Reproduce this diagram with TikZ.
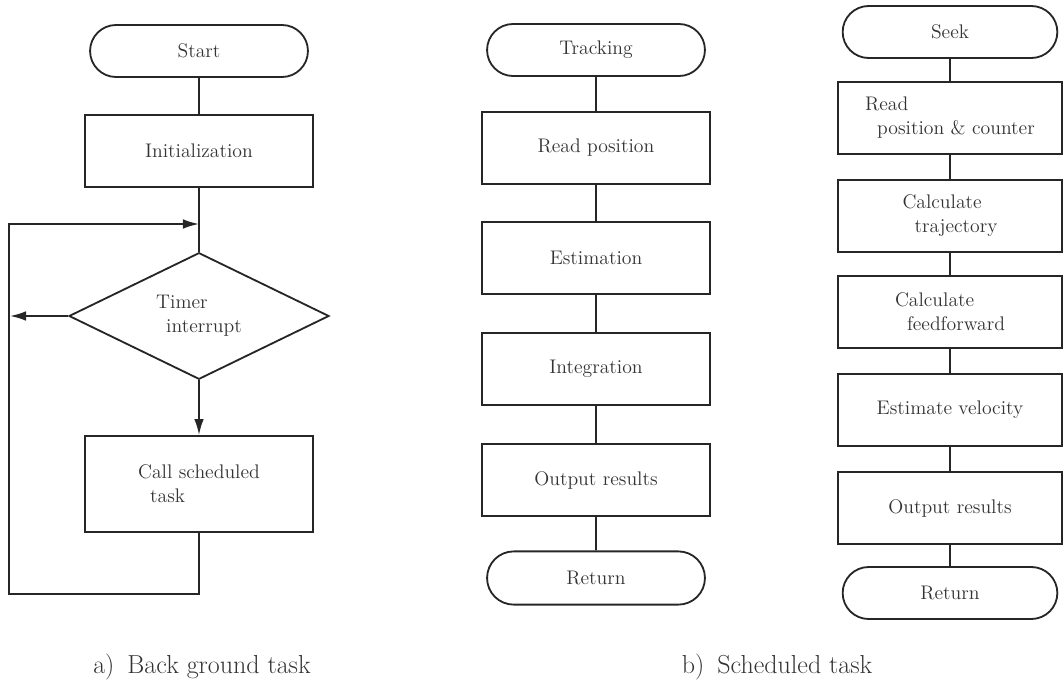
\documentclass[tikz,border=0pt]{standalone}
\usepackage{fontspec}
\usetikzlibrary{shapes.geometric,shapes.misc,arrows.meta}
\begin{document}
\begin{tikzpicture}[x=0.025cm,y=-0.025cm,line width=1.3pt,color=black!85,
  every node/.style={font=\fontsize{14}{17}\selectfont,text=black!80},
  term/.style={draw,rounded rectangle,minimum width=5.68cm,minimum height=1.3cm},
  proc/.style={draw,rectangle,minimum width=5.7cm,minimum height=1.8cm},
  arr/.style={-{Latex[length=4mm,width=2.4mm]}}]
\useasboundingbox (0,0) rectangle (1063,683);
% a) back ground task
\node[term] (start) at (199,51) {Start};
\node[proc] (init) at (199,151) {Initialization};
\node[draw,diamond,minimum width=6.5cm,minimum height=2.85cm,inner sep=0pt,align=left] (timer) at (199,316) {Timer\\\hspace*{2.5mm}interrupt};
\node[proc,minimum height=2.4cm,align=left] (call) at (199,484) {Call scheduled\\\hspace*{3mm}task};
\coordinate (merge) at (199,224);
\coordinate (back) at (9,594);
\coordinate (exit) at (10,316);
\draw (start) -- (init);
\draw (init) -- (timer);
\draw[arr] (timer) -- (call);
\draw[arr] (timer) -- (exit);
\draw[arr] (call) |- (back) |- (merge);
% b) scheduled task, tracking
\node[term] (track) at (596,50) {Tracking};
\node[proc] (rpos) at (596,148) {Read position};
\node[proc] (est) at (596,258) {Estimation};
\node[proc] (integ) at (596,369) {Integration};
\node[proc] (outa) at (596,480) {Output results};
\node[term,minimum height=1.33cm] (reta) at (596,578) {Return};
\foreach \a/\b in {track/rpos,rpos/est,est/integ,integ/outa,outa/reta} \draw (\a) -- (\b);
% b) scheduled task, seek
\node[term,minimum width=5.6cm] (seek) at (950,32) {Seek};
\node[proc,minimum width=5.6cm,align=left] (rpc) at (950,118) {Read\\\hspace*{3mm}position \& counter};
\node[proc,minimum width=5.6cm,align=left] (traj) at (950,216) {Calculate\\\hspace*{3mm}trajectory};
\node[proc,minimum width=5.6cm,align=left] (ff) at (950,312) {Calculate\\\hspace*{3mm}feedforward};
\node[proc,minimum width=5.6cm] (vel) at (950,410) {Estimate velocity};
\node[proc,minimum width=5.6cm] (outb) at (950,508) {Output results};
\node[term,minimum width=5.6cm] (retb) at (950,593) {Return};
\foreach \a/\b in {seek/rpc,rpc/traj,traj/ff,ff/vel,vel/outb,outb/retb} \draw (\a) -- (\b);
% captions
\node[font=\fontsize{18.5}{22}\selectfont] (capa) at (202,667) {a)\enspace Back ground task};
\node[font=\fontsize{18.5}{22}\selectfont] (capb) at (777,667) {b)\enspace Scheduled task};
\end{tikzpicture}
\end{document}
